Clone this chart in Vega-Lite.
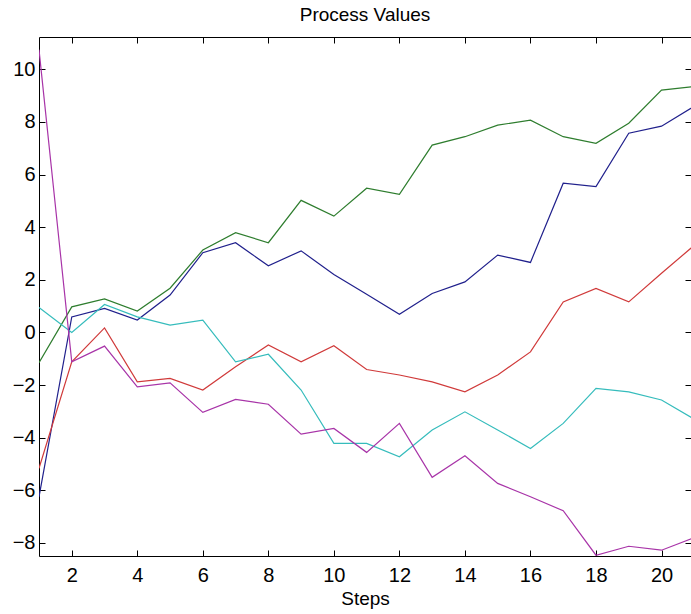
{
  "$schema": "https://vega.github.io/schema/vega-lite/v6.json",
  "width": 652,
  "height": 519,
  "autosize": "none",
  "padding": {"left": 39, "top": 37, "right": 0, "bottom": 58},
  "background": "white",
  "title": {"text": "Process Values", "fontSize": 19, "fontWeight": "normal", "font": "Liberation Sans", "color": "black", "anchor": "middle", "baseline": "alphabetic", "offset": -3},
  "config": {
    "view": {"stroke": "black", "strokeWidth": 1},
    "axis": {"domain": false, "grid": false, "tickSize": -6, "tickColor": "black", "tickWidth": 1, "labelColor": "black", "labelFont": "Liberation Sans", "labelFontSize": 20, "labelFlush": false, "titleFont": "Liberation Sans", "titleFontSize": 19, "titleFontWeight": "normal", "titleColor": "black"}
  },
  "data": {"values": [
    {"step":1,"series":"A","value":-6.25},{"step":2,"series":"A","value":0.59},{"step":3,"series":"A","value":0.91},{"step":4,"series":"A","value":0.47},{"step":5,"series":"A","value":1.42},{"step":6,"series":"A","value":3.03},{"step":7,"series":"A","value":3.41},{"step":8,"series":"A","value":2.53},{"step":9,"series":"A","value":3.10},{"step":10,"series":"A","value":2.2},{"step":11,"series":"A","value":1.45},{"step":12,"series":"A","value":0.69},{"step":13,"series":"A","value":1.48},{"step":14,"series":"A","value":1.92},{"step":15,"series":"A","value":2.94},{"step":16,"series":"A","value":2.66},{"step":17,"series":"A","value":5.67},{"step":18,"series":"A","value":5.54},{"step":19,"series":"A","value":7.57},{"step":20,"series":"A","value":7.84},{"step":21,"series":"A","value":8.6},
    {"step":1,"series":"B","value":-1.15},{"step":2,"series":"B","value":0.97},{"step":3,"series":"B","value":1.27},{"step":4,"series":"B","value":0.81},{"step":5,"series":"B","value":1.68},{"step":6,"series":"B","value":3.13},{"step":7,"series":"B","value":3.79},{"step":8,"series":"B","value":3.41},{"step":9,"series":"B","value":5.02},{"step":10,"series":"B","value":4.42},{"step":11,"series":"B","value":5.48},{"step":12,"series":"B","value":5.25},{"step":13,"series":"B","value":7.12},{"step":14,"series":"B","value":7.44},{"step":15,"series":"B","value":7.88},{"step":16,"series":"B","value":8.07},{"step":17,"series":"B","value":7.44},{"step":18,"series":"B","value":7.19},{"step":19,"series":"B","value":7.95},{"step":20,"series":"B","value":9.21},{"step":21,"series":"B","value":9.35},
    {"step":1,"series":"C","value":-5.17},{"step":2,"series":"C","value":-1.12},{"step":3,"series":"C","value":0.17},{"step":4,"series":"C","value":-1.88},{"step":5,"series":"C","value":-1.75},{"step":6,"series":"C","value":-2.19},{"step":7,"series":"C","value":-1.31},{"step":8,"series":"C","value":-0.48},{"step":9,"series":"C","value":-1.12},{"step":10,"series":"C","value":-0.51},{"step":11,"series":"C","value":-1.41},{"step":12,"series":"C","value":-1.62},{"step":13,"series":"C","value":-1.88},{"step":14,"series":"C","value":-2.26},{"step":15,"series":"C","value":-1.62},{"step":16,"series":"C","value":-0.74},{"step":17,"series":"C","value":1.16},{"step":18,"series":"C","value":1.67},{"step":19,"series":"C","value":1.16},{"step":20,"series":"C","value":2.25},{"step":21,"series":"C","value":3.31},
    {"step":1,"series":"D","value":0.95},{"step":2,"series":"D","value":0.0},{"step":3,"series":"D","value":1.06},{"step":4,"series":"D","value":0.59},{"step":5,"series":"D","value":0.28},{"step":6,"series":"D","value":0.47},{"step":7,"series":"D","value":-1.12},{"step":8,"series":"D","value":-0.83},{"step":9,"series":"D","value":-2.19},{"step":10,"series":"D","value":-4.22},{"step":11,"series":"D","value":-4.22},{"step":12,"series":"D","value":-4.73},{"step":13,"series":"D","value":-3.71},{"step":14,"series":"D","value":-3.02},{"step":15,"series":"D","value":-3.71},{"step":16,"series":"D","value":-4.41},{"step":17,"series":"D","value":-3.46},{"step":18,"series":"D","value":-2.13},{"step":19,"series":"D","value":-2.26},{"step":20,"series":"D","value":-2.57},{"step":21,"series":"D","value":-3.3},
    {"step":1,"series":"E","value":10.75},{"step":2,"series":"E","value":-1.12},{"step":3,"series":"E","value":-0.52},{"step":4,"series":"E","value":-2.07},{"step":5,"series":"E","value":-1.92},{"step":6,"series":"E","value":-3.04},{"step":7,"series":"E","value":-2.55},{"step":8,"series":"E","value":-2.73},{"step":9,"series":"E","value":-3.87},{"step":10,"series":"E","value":-3.65},{"step":11,"series":"E","value":-4.56},{"step":12,"series":"E","value":-3.46},{"step":13,"series":"E","value":-5.51},{"step":14,"series":"E","value":-4.69},{"step":15,"series":"E","value":-5.74},{"step":16,"series":"E","value":-6.25},{"step":17,"series":"E","value":-6.78},{"step":18,"series":"E","value":-8.47},{"step":19,"series":"E","value":-8.13},{"step":20,"series":"E","value":-8.28},{"step":21,"series":"E","value":-7.8}
  ]},
  "layer": [
    {
      "mark": {"type": "line", "clip": true, "strokeWidth": 1.2},
      "encoding": {
        "x": {"field": "step", "type": "quantitative", "scale": {"domain": [1, 20.9], "nice": false, "zero": false}, "axis": {"orient": "bottom", "values": [2,4,6,8,10,12,14,16,18,20], "title": "Steps", "labelPadding": 15, "titlePadding": 4}},
        "y": {"field": "value", "type": "quantitative", "scale": {"domain": [-8.5, 11.23], "nice": false, "zero": false}, "axis": {"orient": "left", "values": [-8,-6,-4,-2,0,2,4,6,8,10], "title": null, "labelPadding": 10}},
        "color": {"field": "series", "type": "nominal", "scale": {"domain": ["A","B","C","D","E"], "range": ["#20208c", "#2e7d2e", "#d03a3a", "#35bcbc", "#a834a8"]}, "legend": null}
      }
    },
    {
      "mark": {"type": "line", "clip": true, "opacity": 0},
      "encoding": {
        "x": {"field": "step", "type": "quantitative", "axis": {"orient": "top", "values": [2,4,6,8,10,12,14,16,18,20], "labels": false, "title": null}},
        "y": {"field": "value", "type": "quantitative", "axis": {"orient": "right", "values": [-8,-6,-4,-2,0,2,4,6,8,10], "labels": false, "title": null}},
        "detail": {"field": "series", "type": "nominal"}
      }
    }
  ],
  "resolve": {"axis": {"x": "independent", "y": "independent"}}
}
